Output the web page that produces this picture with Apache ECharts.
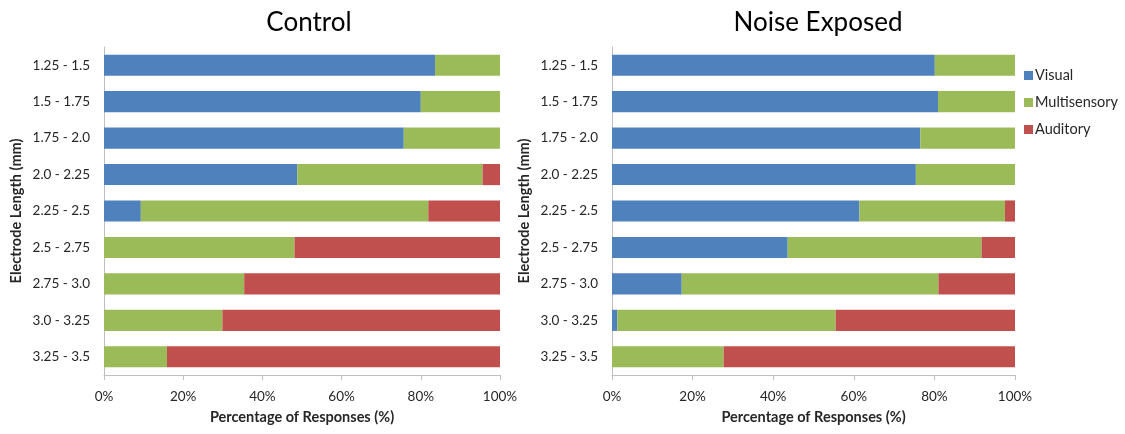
<!DOCTYPE html>
<html>
<head>
<meta charset="utf-8">
<script src="https://cdn.jsdelivr.net/npm/echarts@6/dist/echarts.min.js"></script>
<style>
  html, body { margin: 0; padding: 0; background: #ffffff; }
  #chart { width: 1125px; height: 434px; }
</style>
</head>
<body>
<div id="chart"></div>
<script>
// Electrode length bins, top to bottom
const categories = ['1.25 - 1.5', '1.5 - 1.75', '1.75 - 2.0', '2.0 - 2.25', '2.25 - 2.5',
                    '2.5 - 2.75', '2.75 - 3.0', '3.0 - 3.25', '3.25 - 3.5'];
const seriesNames = ['Visual', 'Multisensory', 'Auditory'];
const xTicks = [0, 20, 40, 60, 80, 100];

// Control group: percentage of responses per bin
const controlVisual       = [83.6, 80.0, 75.7, 48.8,  9.3,  0.0,  0.0,  0.0,  0.0];
const controlMultisensory = [16.4, 20.0, 24.3, 46.8, 72.6, 48.1, 35.4, 29.9, 15.9];
const controlAuditory     = [ 0.0,  0.0,  0.0,  4.4, 18.1, 51.9, 64.6, 70.1, 84.1];

// Noise-exposed group: percentage of responses per bin
const noiseVisual       = [80.1, 80.9, 76.5, 75.4, 61.4, 43.6, 17.3,  1.3,  0.0];
const noiseMultisensory = [19.9, 19.1, 23.5, 24.6, 36.1, 48.1, 63.7, 54.2, 27.7];
const noiseAuditory     = [ 0.0,  0.0,  0.0,  0.0,  2.5,  8.3, 19.0, 44.5, 72.3];

const colors = ['#4F81BD', '#9BBB59', '#C0504D'];
const FONT = 'Lato, "Open Sans", sans-serif';
const TXT = '#262626';

function xAxis(gridIndex) {
  return {
    type: 'value', gridIndex, min: 0, max: 100, interval: 20,
    name: 'Percentage of Responses (%)', nameLocation: 'middle', nameGap: 35,
    nameTextStyle: { fontFamily: FONT, fontSize: 14.5, fontWeight: 'bold', color: TXT },
    axisLine: { show: true, lineStyle: { color: '#BFBFBF', width: 1 } },
    axisTick: { show: true, length: 5, lineStyle: { color: '#BFBFBF' } },
    splitLine: { show: false },
    axisLabel: { margin: 15, fontFamily: FONT, fontSize: 13.5, color: TXT,
                 formatter: v => (xTicks.includes(v) ? v + '%' : '') }
  };
}

function yAxis(gridIndex) {
  return {
    type: 'category', gridIndex, data: categories, inverse: true,
    name: 'Electrode Length (mm)', nameLocation: 'middle', nameGap: 80, nameRotate: 90,
    nameTextStyle: { fontFamily: FONT, fontSize: 14.5, fontWeight: 'bold', color: TXT },
    axisLine: { show: true, lineStyle: { color: '#BFBFBF', width: 1 } },
    axisTick: { show: false },
    axisLabel: { margin: 14, fontFamily: FONT, fontSize: 13.5, color: TXT }
  };
}

function bars(idx, values) {
  return values.map((vals, i) => ({
    name: seriesNames[i], type: 'bar', stack: 'g' + idx,
    xAxisIndex: idx, yAxisIndex: idx,
    data: vals, barCategoryGap: '42%',
    itemStyle: { color: colors[i] },
    emphasis: { disabled: true }
  }));
}

const chart = echarts.init(document.getElementById('chart'), null, { renderer: 'canvas' });
chart.setOption({
  animation: false,
  backgroundColor: '#ffffff',
  color: colors,
  title: [
    { text: 'Control', left: 304, top: 5, textAlign: 'center',
      textStyle: { fontFamily: FONT, fontSize: 26, fontWeight: 'normal', color: '#000' } },
    { text: 'Noise Exposed', left: 813, top: 5, textAlign: 'center',
      textStyle: { fontFamily: FONT, fontSize: 26, fontWeight: 'normal', color: '#000' } }
  ],
  legend: {
    orient: 'vertical', left: 1019, top: 63, itemWidth: 9, itemHeight: 9, itemGap: 12,
    icon: 'rect', data: seriesNames,
    textStyle: { fontFamily: FONT, fontSize: 14.5, color: TXT, padding: [0, 0, 0, -3] }
  },
  grid: [
    { left: 104, top: 47, width: 396, height: 328 },
    { left: 612, top: 47, width: 403, height: 328 }
  ],
  xAxis: [xAxis(0), xAxis(1)],
  yAxis: [yAxis(0), yAxis(1)],
  series: [
    ...bars(0, [controlVisual, controlMultisensory, controlAuditory]),
    ...bars(1, [noiseVisual, noiseMultisensory, noiseAuditory])
  ]
});
</script>
</body>
</html>
